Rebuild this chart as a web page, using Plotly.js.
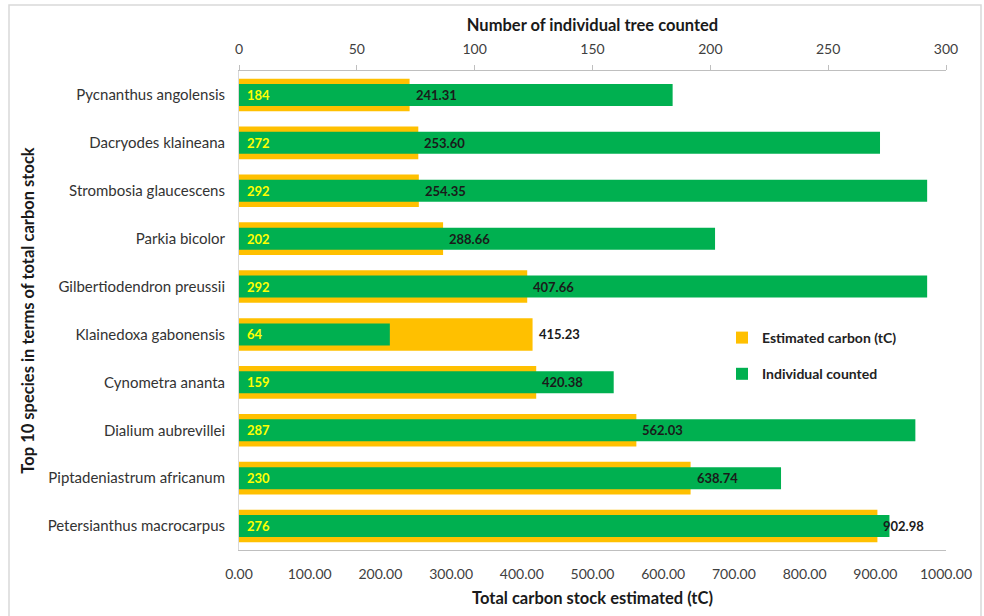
<!DOCTYPE html>
<html>
<head>
<meta charset="utf-8">
<script src="https://cdn.plot.ly/plotly-3.0.1.min.js"></script>
<style>
html,body{margin:0;padding:0;background:#fff;}
#chart{width:984px;height:616px;}
</style>
</head>
<body>
<div id="chart"></div>
<script>
const species = [
  "Pycnanthus angolensis",
  "Dacryodes klaineana",
  "Strombosia glaucescens",
  "Parkia bicolor",
  "Gilbertiodendron preussii",
  "Klainedoxa gabonensis",
  "Cynometra ananta",
  "Dialium aubrevillei",
  "Piptadeniastrum africanum",
  "Petersianthus macrocarpus"
];
const carbon = [241.31, 253.60, 254.35, 288.66, 407.66, 415.23, 420.38, 562.03, 638.74, 902.98];
const counted = [184, 272, 292, 202, 292, 64, 159, 287, 230, 276];

const FONT = "Lato, 'Open Sans', sans-serif";
const L = 239, R = 946, T = 71, B = 550;
const PW = R - L, PH = B - T;

const traces = [
  {
    type: 'bar', orientation: 'h',
    name: 'Estimated carbon (tC)',
    legendgroup: 'a',
    x: carbon, y: species,
    xaxis: 'x', yaxis: 'y',
    width: 0.68,
    marker: {color: '#FFC000'},
    hoverinfo: 'x+y'
  },
  {
    type: 'bar', orientation: 'h',
    name: 'Individual counted',
    legendgroup: 'b',
    x: counted, y: species,
    xaxis: 'x2', yaxis: 'y',
    width: 0.46,
    marker: {color: '#00B050'},
    hoverinfo: 'x+y'
  }
];

const carbonLabels = carbon.map((v, i) => ({
  x: v, y: species[i], xref: 'x', yref: 'y',
  text: '<b>' + v.toFixed(2) + '</b>',
  showarrow: false, xanchor: 'left', xshift: 4,
  font: {family: FONT, size: 13, color: '#1a1a1a'}
}));
const countLabels = counted.map((v, i) => ({
  x: 0, y: species[i], xref: 'x2', yref: 'y',
  text: '<b>' + v + '</b>',
  showarrow: false, xanchor: 'left', xshift: 6,
  font: {family: FONT, size: 13, color: '#FFFF00'}
}));

const layout = {
  width: 984, height: 616,
  margin: {l: L, r: 984 - R, t: T, b: 616 - B, autoexpand: false},
  paper_bgcolor: '#ffffff', plot_bgcolor: '#ffffff',
  font: {family: FONT, size: 14, color: '#333333'},
  barmode: 'overlay',
  showlegend: true,
  legend: {
    x: (722 - L) / PW, y: 1 - (322 - T) / PH, xanchor: 'left', yanchor: 'top',
    bgcolor: 'rgba(255,255,255,0)',
    font: {family: FONT, size: 14, color: '#222', weight: 'bold'},
    traceorder: 'grouped', tracegroupgap: 15,
    itemwidth: 30
  },
  xaxis: {
    range: [0, 1000], dtick: 100, tickformat: '.2f',
    showgrid: false, zeroline: false,
    showline: true, linecolor: '#bfbfbf', linewidth: 1,
    ticks: 'outside', ticklen: 11, tickcolor: 'rgba(0,0,0,0)',
    tickfont: {family: FONT, size: 14, color: '#404040'},
    title: {text: '<b>Total carbon stock estimated (tC)</b>', font: {family: FONT, size: 16.5, color: '#1a1a1a'}, standoff: 11},
    automargin: false,
    fixedrange: true
  },
  xaxis2: {
    range: [0, 300], dtick: 50, overlaying: 'x', side: 'top',
    showgrid: false, zeroline: false,
    showline: true, linecolor: '#bfbfbf', linewidth: 1,
    ticks: 'outside', ticklen: 5, tickcolor: '#bfbfbf',
    tickfont: {family: FONT, size: 14, color: '#404040'},
    ticklabelstandoff: 5,
    title: {text: '<b>Number of individual tree counted</b>', font: {family: FONT, size: 16.5, color: '#1a1a1a'}, standoff: 4},
    automargin: false,
    fixedrange: true
  },
  yaxis: {
    categoryorder: 'array', categoryarray: species,
    autorange: 'reversed',
    showgrid: false, zeroline: false,
    showline: true, linecolor: '#d9d9d9', linewidth: 1,
    ticks: 'outside', ticklen: 10, tickcolor: 'rgba(0,0,0,0)',
    tickfont: {family: FONT, size: 15, color: '#333333'},
    title: {text: '<b>Top 10 species in terms of total carbon stock</b>', font: {family: FONT, size: 16.5, color: '#1a1a1a'}, standoff: 8},
    automargin: false,
    fixedrange: true
  },
  annotations: carbonLabels.concat(countLabels),
  shapes: [{
    type: 'rect', xref: 'paper', yref: 'paper',
    x0: (9 - L) / PW, x1: (981 - L) / PW,
    y0: -(640 - B) / PH, y1: 1 + (T - 5) / PH,
    line: {color: '#d9d9d9', width: 1.5}, fillcolor: 'rgba(0,0,0,0)', layer: 'below'
  }]
};

Plotly.newPlot('chart', traces, layout, {displayModeBar: false, staticPlot: true});
</script>
</body>
</html>
